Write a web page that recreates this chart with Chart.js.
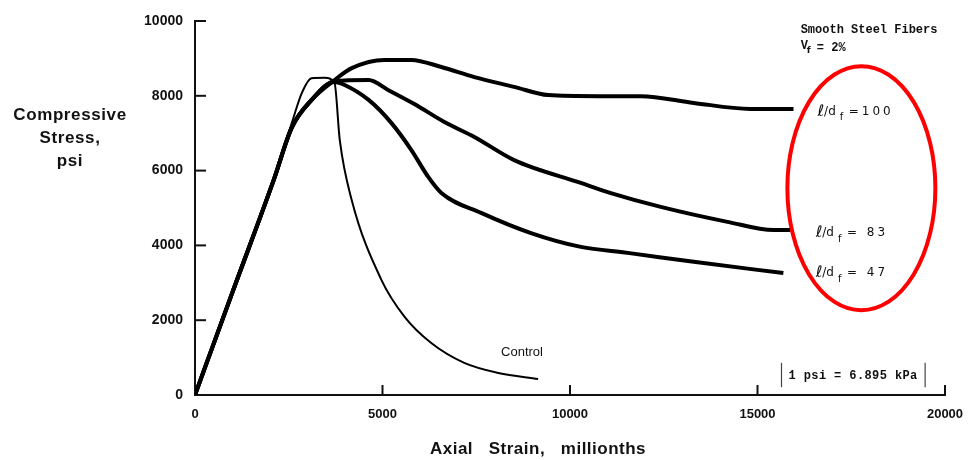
<!DOCTYPE html>
<html>
<head>
<meta charset="utf-8">
<script src="https://cdn.jsdelivr.net/npm/chart.js@4/dist/chart.umd.min.js"></script>
<style>
  html, body { margin: 0; padding: 0; background: #fff; }
  #wrap { width: 968px; height: 460px; position: relative; }
</style>
</head>
<body>
<div id="wrap"><canvas id="stressChart" width="968" height="460"></canvas></div>
<script>
// strain in millionths, stress in psi
const controlStrain = [0, 1000, 2100, 2580, 2850, 3110, 3460, 3720, 3860, 4180, 4970, 5590, 6300, 7180, 8090, 9150];
const controlStress = [0, 2750, 5750, 7270, 8080, 8470, 8480, 8350, 6820, 5210, 3080, 2090, 1390, 860, 590, 430];

const ld100Strain = [0, 1000, 2100, 2580, 3110, 3720, 4180, 5050, 5770, 6570, 7450, 8510, 9420, 10750, 11890, 13300, 14810, 15960];
const ld100Stress = [0, 2750, 5750, 7150, 7890, 8420, 8740, 8960, 8960, 8770, 8500, 8240, 8020, 7990, 7990, 7810, 7650, 7650];

const ld83Strain = [0, 1000, 2100, 2580, 3110, 3720, 4630, 5160, 5850, 6650, 7450, 8510, 10290, 11090, 12420, 14200, 15430, 15880];
const ld83Stress = [0, 2750, 5750, 7150, 7890, 8390, 8420, 8150, 7780, 7300, 6900, 6280, 5670, 5400, 5030, 4630, 4410, 4410];

const ld47Strain = [0, 1000, 2100, 2580, 3110, 3720, 3990, 4630, 5240, 5770, 6220, 6570, 7630, 8960, 10290, 11540, 13300, 15690];
const ld47Stress = [0, 2750, 5750, 7150, 7890, 8370, 8290, 7890, 7270, 6550, 5830, 5400, 4870, 4330, 3960, 3800, 3560, 3260];

const yTicks = [0, 2000, 4000, 6000, 8000, 10000];
const xTicks = [0, 5000, 10000, 15000, 20000];

function toPoints(xs, ys) {
    return xs.map((x, i) => ({ x: x, y: ys[i] }));
}

// text notes, placed in data units
const notes = {
    fibers: { x: 16150, y: 9760 },
    vf: { x: 16150, y: 9280 },
    ld100: { x: 16600, y: 7570 },
    ld83: { x: 16550, y: 4330 },
    ld47: { x: 16550, y: 3260 },
    control: { x: 8720, y: 1150 },
    conv: { x1: 15640, x2: 19470, y1: 860, y2: 210 },
    ring: { x: 17770, y: 5530 }
};

const decor = {
    id: 'decor',
    afterDraw(chart) {
        const ctx = chart.ctx;
        const xs = chart.scales.x, ys = chart.scales.y;
        const area = chart.chartArea;
        ctx.save();
        ctx.strokeStyle = '#111';
        ctx.lineWidth = 2;

        // inward tick marks
        yTicks.forEach(v => {
            if (v === 0) return;
            const py = ys.getPixelForValue(v);
            ctx.beginPath(); ctx.moveTo(area.left, py); ctx.lineTo(area.left + 11, py); ctx.stroke();
        });
        xTicks.forEach(v => {
            if (v === 0) return;
            const px = xs.getPixelForValue(v);
            ctx.beginPath(); ctx.moveTo(px, area.bottom); ctx.lineTo(px, area.bottom - 10); ctx.stroke();
        });

        // y title
        ctx.fillStyle = '#111';
        ctx.textAlign = 'center';
        ctx.textBaseline = 'middle';
        ctx.font = 'bold 17px "Liberation Sans", Arial, sans-serif';
        ctx.letterSpacing = '0.6px';
        ctx.fillText('Compressive', 70, 115);
        ctx.fillText('Stress,', 70, 138);
        ctx.fillText('psi', 70, 161);

        // x title
        ctx.letterSpacing = '0.5px';
        ctx.fillText('Axial   Strain,   millionths', 538, 449);

        // fibre note
        ctx.textAlign = 'left';
        ctx.letterSpacing = '0px';
        ctx.font = 'bold 12px "Liberation Mono", "DejaVu Sans Mono", monospace';
        ctx.fillText('Smooth Steel Fibers', xs.getPixelForValue(notes.fibers.x), ys.getPixelForValue(notes.fibers.y));
        let vx = xs.getPixelForValue(notes.vf.x), vy = ys.getPixelForValue(notes.vf.y);
        ctx.fillText('V', vx, vy - 2);
        ctx.font = 'bold 9px "DejaVu Sans", sans-serif';
        ctx.fillText('f', vx + 6, vy + 3);
        ctx.font = 'bold 12px "Liberation Mono", "DejaVu Sans Mono", monospace';
        ctx.fillText(' = 2%', vx + 9, vy);

        // l/d labels
        function ldLabel(pos, tail) {
            let x = xs.getPixelForValue(pos.x), y = ys.getPixelForValue(pos.y);
            ctx.font = 'italic 16px "DejaVu Sans", sans-serif';
            ctx.letterSpacing = '0px';
            ctx.fillText('\u2113', x, y);
            x += ctx.measureText('\u2113').width;
            ctx.font = '12px "DejaVu Sans", sans-serif';
            ctx.fillText('/d', x, y);
            x += ctx.measureText('/d').width + 4;
            ctx.font = '10px "DejaVu Sans", sans-serif';
            ctx.fillText('f', x, y + 6);
            x += 9;
            ctx.font = '12px "DejaVu Sans", sans-serif';
            ctx.letterSpacing = '3px';
            ctx.fillText(tail, x, y);
            ctx.letterSpacing = '0px';
        }
        ldLabel(notes.ld100, '=100');
        ldLabel(notes.ld83, '= 83');
        ldLabel(notes.ld47, '= 47');

        // control label
        ctx.textAlign = 'center';
        ctx.font = '13px "Liberation Sans", Arial, sans-serif';
        ctx.fillText('Control', xs.getPixelForValue(notes.control.x), ys.getPixelForValue(notes.control.y));

        // unit conversion box
        const c = notes.conv;
        const bx1 = xs.getPixelForValue(c.x1), bx2 = xs.getPixelForValue(c.x2);
        const by1 = ys.getPixelForValue(c.y1), by2 = ys.getPixelForValue(c.y2);
        ctx.lineWidth = 1.2;
        ctx.strokeStyle = '#444';
        ctx.beginPath(); ctx.moveTo(bx1, by1); ctx.lineTo(bx1, by2); ctx.stroke();
        ctx.beginPath(); ctx.moveTo(bx2, by1); ctx.lineTo(bx2, by2); ctx.stroke();
        ctx.textAlign = 'left';
        ctx.font = 'bold 12px "Liberation Mono", "DejaVu Sans Mono", monospace';
        ctx.letterSpacing = '0.4px';
        ctx.fillText('1 psi = 6.895 kPa', bx1 + 7, (by1 + by2) / 2 + 1);
        ctx.letterSpacing = '0px';

        // red ring round the labels
        ctx.strokeStyle = '#ff0000';
        ctx.lineWidth = 4;
        ctx.beginPath();
        ctx.ellipse(xs.getPixelForValue(notes.ring.x), ys.getPixelForValue(notes.ring.y), 74, 122, 0, 0, Math.PI * 2);
        ctx.stroke();
        ctx.restore();
    }
};

const lineBase = { pointRadius: 0, borderColor: '#000', cubicInterpolationMode: 'monotone', fill: false };
const tickFont = { family: '"Liberation Sans", Arial, sans-serif', weight: 'bold' };

new Chart(document.getElementById('stressChart'), {
    type: 'line',
    data: {
        datasets: [
            Object.assign({ label: 'Control', data: toPoints(controlStrain, controlStress), borderWidth: 2 }, lineBase),
            Object.assign({ label: 'l/df = 100', data: toPoints(ld100Strain, ld100Stress), borderWidth: 4 }, lineBase),
            Object.assign({ label: 'l/df = 83', data: toPoints(ld83Strain, ld83Stress), borderWidth: 4 }, lineBase),
            Object.assign({ label: 'l/df = 47', data: toPoints(ld47Strain, ld47Stress), borderWidth: 4 }, lineBase)
        ]
    },
    options: {
        responsive: false,
        animation: false,
        layout: { padding: { top: 21, right: 23, left: 0, bottom: 0 } },
        plugins: { legend: { display: false }, tooltip: { enabled: false } },
        scales: {
            x: {
                type: 'linear', min: 0, max: 20000,
                afterBuildTicks: s => { s.ticks = xTicks.map(v => ({ value: v })); },
                afterFit: s => { s.height = 65; s.paddingLeft = 0; s.paddingRight = 0; },
                grid: { display: false, drawTicks: false, tickLength: 0 },
                border: { display: true, color: '#111', width: 2 },
                ticks: { color: '#111', padding: 12, maxRotation: 0, callback: v => String(v),
                         font: Object.assign({ size: 13 }, tickFont) }
            },
            y: {
                type: 'linear', min: 0, max: 10000,
                afterBuildTicks: s => { s.ticks = yTicks.map(v => ({ value: v })); },
                afterFit: s => { s.width = 195; s.paddingTop = 0; s.paddingBottom = 0; },
                grid: { display: false, drawTicks: false, tickLength: 0 },
                border: { display: true, color: '#111', width: 2 },
                ticks: { color: '#111', padding: 12, callback: v => String(v),
                         font: Object.assign({ size: 14 }, tickFont) }
            }
        }
    },
    plugins: [decor]
});
</script>
</body>
</html>
